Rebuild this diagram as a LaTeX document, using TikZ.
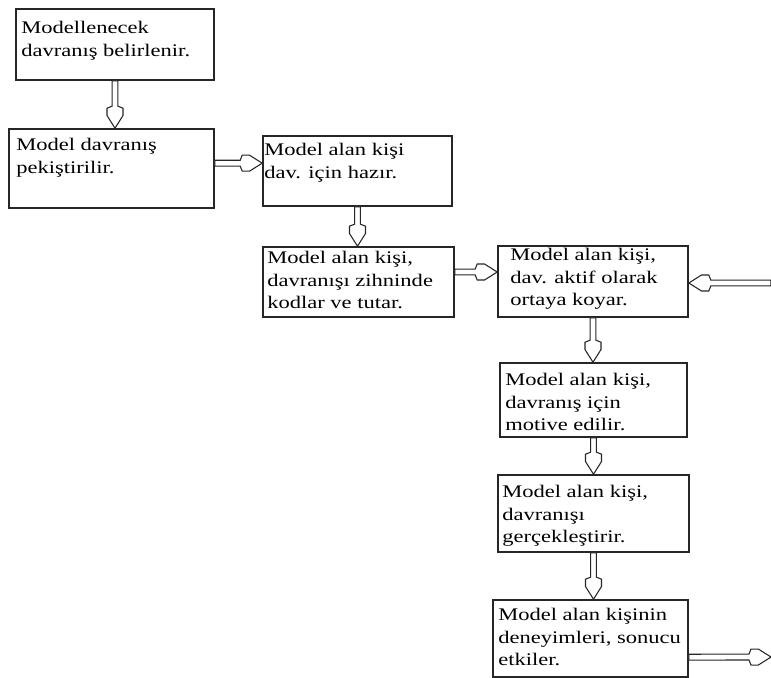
\documentclass[tikz,border=0pt]{standalone}
\usepackage{fontspec}
\setmainfont{Liberation Serif}[FakeStretch=1.27]
\usetikzlibrary{calc}
\usetikzlibrary{fit}

\tikzset{
  box/.style={draw=black!85, line width=1.2pt, inner sep=0pt},
  txt/.style={anchor=north west, inner sep=0pt, align=left, font=\fontsize{13.3pt}{17pt}\selectfont},
  blk/.style={draw=black!85, line width=0.8pt, fill=white, to path={
    ($(\tikztostart)!2.2pt!90:(\tikztotarget)$)
    -- ($(\tikztotarget)!16.5pt!(\tikztostart)!2.2pt!-90:(\tikztostart)$)
    -- ($(\tikztotarget)!15pt!(\tikztostart)!6pt!-90:(\tikztostart)$)
    -- ($(\tikztotarget)!9.5pt!(\tikztostart)!6pt!-90:(\tikztostart)$)
    -- (\tikztotarget)
    -- ($(\tikztotarget)!9.5pt!(\tikztostart)!6pt!90:(\tikztostart)$)
    -- ($(\tikztotarget)!15pt!(\tikztostart)!6pt!90:(\tikztostart)$)
    -- ($(\tikztotarget)!16.5pt!(\tikztostart)!2.2pt!90:(\tikztostart)$)
    -- ($(\tikztostart)!2.2pt!-90:(\tikztotarget)$)
    -- cycle}}
}

\begin{document}
\begin{tikzpicture}[x=0.75pt, y=-0.75pt]

    \useasboundingbox (0,0) rectangle (771,678);

    % boxes
    \node[box, fit={(16,9) (214,80)}] (b1) {};
    \node[box, fit={(9,129) (214,208)}] (b2) {};
    \node[box, fit={(263,136) (452,206)}] (b3) {};
    \node[box, fit={(263,247) (454,317)}] (b4) {};
    \node[box, fit={(498,246) (688,317)}] (b5) {};
    \node[box, fit={(500,363) (687,437)}] (b6) {};
    \node[box, fit={(498,475) (689,552)}] (b7) {};
    \node[box, fit={(493,600) (688,677)}] (b8) {};

    % texts
    \node[txt] (t1) at (21,21) {Modellenecek\\davranış belirlenir.};
    \node[txt] (t2) at (16,138) {Model davranış\\pekiştirilir.};
    \node[txt] (t3) at (264,143) {Model alan kişi\\dav. için hazır.};
    \node[txt] (t4) at (267,251) {Model alan kişi,\\davranışı zihninde\\kodlar ve tutar.};
    \node[txt] (t5) at (510,248) {Model alan kişi,\\dav. aktif olarak\\ortaya koyar.};
    \node[txt] (t6) at (505,373) {Model alan kişi,\\davranış için\\motive edilir.};
    \node[txt] (t7) at (502,485) {Model alan kişi,\\davranışı\\gerçekleştirir.};
    \node[txt] (t8) at (498,608) {Model alan kişinin\\deneyimleri, sonucu\\etkiler.};

    % arrow ends
    \coordinate (a2s) at ([yshift=4pt]b2.east);
    \coordinate (a4s) at ([yshift=7.5pt]b4.east);
    \coordinate (a8s) at ([yshift=-14pt]b8.east);
    \coordinate (inR) at (771,283);
    \coordinate (outR) at (771,657);

    % arrows
    \draw[blk] (b1.south) to (b1.south |- b2.north);
    \draw[blk] (a2s) to (a2s -| b3.west);
    \draw[blk] (b3.south) to (b3.south |- b4.north);
    \draw[blk] (a4s) to (a4s -| b5.west);
    \draw[blk] (inR) to (inR -| b5.east);
    \draw[blk] (b5.south) to (b5.south |- b6.north);
    \draw[blk] (b6.south) to (b6.south |- b7.north);
    \draw[blk] (b7.south) to (b7.south |- b8.north);
    \draw[blk] (a8s) to (outR);

\end{tikzpicture}
\end{document}
